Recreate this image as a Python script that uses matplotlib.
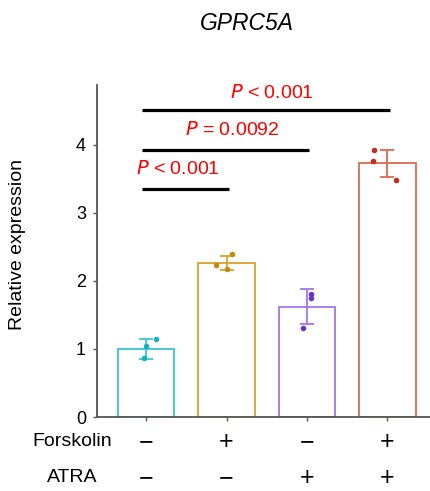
import matplotlib
matplotlib.use("Agg")
import matplotlib.pyplot as plt
import matplotlib.transforms as mtransforms
import numpy as np

plt.rcParams['font.family'] = ['Liberation Sans', 'DejaVu Sans']

# Group means and replicate measurements
means = [1.00, 2.26, 1.62, 3.73]
errors = [0.145, 0.105, 0.26, 0.20]
replicates = [
    [1.14, 1.04, 0.86],
    [2.39, 2.23, 2.17],
    [1.81, 1.75, 1.31],
    [3.93, 3.76, 3.49],
]
jitter = [
    [0.12, 0.0, -0.02],
    [0.07, -0.13, 0.0],
    [0.05, 0.05, -0.05],
    [-0.17, -0.18, 0.11],
]
forskolin = ['−', '+', '−', '+']
atra = ['−', '−', '+', '+']
edge_colors = ['#3cc4cc', '#d9a22a', '#a274ea', '#dd6a50']
point_colors = ['#12b0c0', '#c08c10', '#6a30d6', '#c03018']

# Significance comparisons: (end group, bar height, label, label x, label y)
comparisons = [
    (1, 3.35, '$\\it{P}$ < 0.001', 0.39, 3.65),
    (2, 3.93, '$\\it{P}$ = 0.0092', 1.07, 4.22),
    (3, 4.51, '$\\it{P}$ < 0.001', 1.56, 4.76),
]

W, H = 430, 491
fig = plt.figure(figsize=(W / 100, H / 100), dpi=100)
ax = fig.add_axes([97 / W, (H - 417) / H, 1 - 97 / W, (417 - 85) / H])

x = np.arange(len(means))
spine_col = '#555555'
for i in x:
    ax.bar(i, means[i], width=0.7, facecolor='white', edgecolor=edge_colors[i],
           linewidth=1.3, zorder=2)
    ax.errorbar(i, means[i], yerr=errors[i], fmt='none', ecolor=edge_colors[i],
                elinewidth=1.3, capsize=5, capthick=1.3, zorder=3)
    ax.scatter(np.array(jitter[i]) + i, replicates[i], s=16, color=point_colors[i],
               zorder=4, linewidths=0)

for end, yb, label, tx, ty in comparisons:
    ax.plot([-0.05, end + 0.03], [yb, yb], color='black', lw=2.3,
            solid_capstyle='butt', clip_on=False, zorder=5)
    ax.text(tx, ty, label, color='#ff0000', fontsize=14, ha='center', va='center')

ax.set_xlim(-0.61, 3.53)
ax.set_ylim(0, 4.88)
ax.set_yticks([0, 1, 2, 3, 4])
ax.set_xticks(x)
ax.set_xticklabels([])
ax.tick_params(axis='y', labelsize=13, length=3, width=1, color=spine_col, pad=5)
ax.tick_params(axis='x', length=3, width=1, color=spine_col)
for s in ['top', 'right']:
    ax.spines[s].set_visible(False)
for s in ['left', 'bottom']:
    ax.spines[s].set_color(spine_col)
    ax.spines[s].set_linewidth(1.3)

fig.text(18 / W, 1 - 245 / H, 'Relative expression', fontsize=14, rotation=90,
         ha='center', va='center')
fig.text(247 / W, 1 - 24 / H, 'GPRC5A', fontsize=16.5, style='italic',
         ha='center', va='center')

# Treatment table below the axis
row_trans = mtransforms.blended_transform_factory(ax.transData, fig.transFigure)
for name, signs, ypx in [('Forskolin', forskolin, 442), ('ATRA', atra, 478)]:
    fig.text(72 / W, 1 - ypx / H, name, fontsize=14, ha='center', va='center')
    for i, sgn in enumerate(signs):
        ax.text(i, 1 - ypx / H, sgn, transform=row_trans, fontsize=18,
                ha='center', va='center', clip_on=False)

fig.savefig('out.png', dpi=100)
